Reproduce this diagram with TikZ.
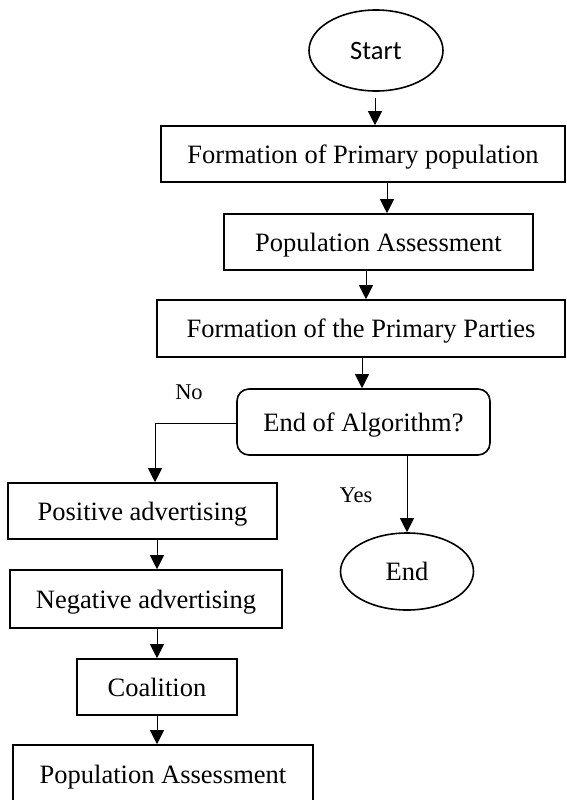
\documentclass[tikz,border=0pt]{standalone}
\usepackage{fontspec}
\setmainfont{Liberation Serif}
\newfontfamily\startfont{Carlito}
\usetikzlibrary{arrows.meta,shapes.geometric}
\begin{document}
\begin{tikzpicture}[x=1pt,y=-1pt,
  every node/.style={inner sep=0pt, font=\fontsize{26.5}{30}\selectfont},
  boxnode/.style={draw, line width=1.6pt, rectangle, text height=18pt, text depth=0pt},
  termnode/.style={draw, line width=1.6pt, ellipse},
  decnode/.style={draw, line width=1.6pt, rectangle, rounded corners=12pt, text height=18pt, text depth=0pt},
  arr/.style={line width=1pt, -{Triangle[width=14pt,length=14pt]}},
  lbl/.style={font=\fontsize{22.5}{26}\selectfont}]
\useasboundingbox (0,0) rectangle (566,800);
\clip (0,0) rectangle (566,800);
\node[termnode, minimum width=134pt, minimum height=81pt, font=\startfont\fontsize{26.5}{30}\selectfont] (start) at (376,50.5) {Start};
\node[boxnode, minimum width=404pt, minimum height=56pt] (b1) at (363,154) {Formation of Primary population};
\node[boxnode, minimum width=309pt, minimum height=56pt] (b2) at (378.5,242) {Population Assessment};
\node[boxnode, minimum width=408pt, minimum height=57pt] (b3) at (361,328.5) {Formation of the Primary Parties};
\node[decnode, minimum width=253pt, minimum height=66pt] (dec) at (363.5,422) {End of Algorithm?};
\node[boxnode, minimum width=269pt, minimum height=56pt] (pos) at (142.5,511) {Positive advertising};
\node[boxnode, minimum width=272pt, minimum height=58pt] (neg) at (146,599) {Negative advertising};
\node[boxnode, minimum width=160pt, minimum height=56pt] (coal) at (157,687) {Coalition};
\node[boxnode, minimum width=300pt, minimum height=58pt] (fin) at (163,774) {Population Assessment};
\node[termnode, minimum width=133pt, minimum height=77pt] (end) at (407,571.5) {End};
\node[lbl] (no) at (189,392) {No};
\node[lbl] (yes) at (356,495) {Yes};
\coordinate (nocorner) at (155,423);
\draw[arr] ([xshift=-1pt,yshift=-6pt]start.south) -- ([xshift=12pt]b1.north);
\draw[arr] ([xshift=24pt]b1.south) -- ([xshift=8.5pt]b2.north);
\draw[arr] ([xshift=-12.5pt]b2.south) -- ([xshift=5pt]b3.north);
\draw[arr] ([xshift=1pt]b3.south) -- ([xshift=-1.5pt]dec.north);
\draw[arr] (nocorner -| dec.west) -- (nocorner) -- ([xshift=12.5pt]pos.north);
\draw[arr] ([xshift=43.5pt]dec.south) -- (end.north);
\draw[arr] ([xshift=14.5pt]pos.south) -- ([xshift=11pt]neg.north);
\draw[arr] ([xshift=11pt]neg.south) -- (coal.north);
\draw[arr] (coal.south) -- ([xshift=-6pt]fin.north);
\end{tikzpicture}
\end{document}
